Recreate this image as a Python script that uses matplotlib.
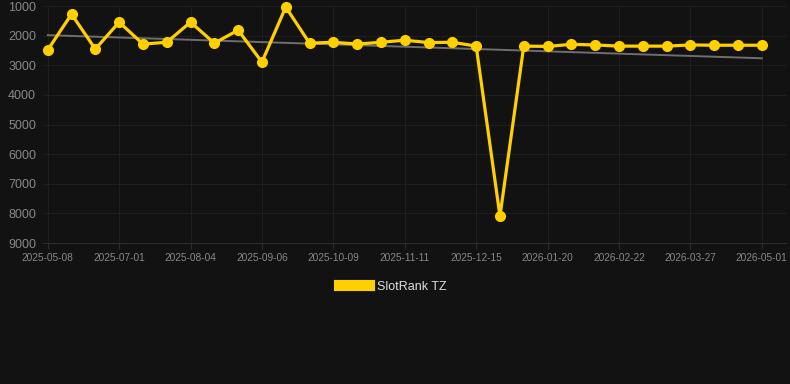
import numpy as np
import matplotlib.pyplot as plt

plt.rcParams["font.family"] = ["Liberation Sans", "DejaVu Sans"]

dates = ["2025-05-08", "", "", "2025-07-01", "", "", "2025-08-04", "", "",
         "2025-09-06", "", "", "2025-10-09", "", "", "2025-11-11", "", "",
         "2025-12-15", "", "", "2026-01-20", "", "", "2026-02-22", "", "",
         "2026-03-27", "", "", "2026-05-01"]
ranks = [2480, 1270, 2450, 1540, 2280, 2220, 1540, 2250, 1810, 2890, 1030,
         2250, 2220, 2280, 2220, 2150, 2230, 2220, 2350, 8090, 2350, 2360,
         2290, 2310, 2350, 2350, 2350, 2310, 2320, 2320, 2320]
trend_ends = [1980, 2760]

bg = "#121212"
fig = plt.figure(figsize=(7.9, 3.84), dpi=100, facecolor=bg)
ax = fig.add_axes([0.0544, 0.367, 0.94, 0.617], facecolor=bg)

x = np.arange(len(ranks))
ax.plot([x[0], x[-1]], trend_ends, color="#6e6e6e", lw=1.4, zorder=2)
ax.plot(x, ranks, color="#FFD000", lw=2.3, marker="o", markersize=7,
        label="SlotRank TZ", zorder=3, clip_on=False)

ax.set_ylim(9000, 1000)
ax.set_xlim(-0.2, 31.0)
ax.set_yticks(range(1000, 10000, 1000))
ax.set_xticks(x[::3])
ax.set_xticklabels([d for d in dates if d])

ax.grid(True, color="#1e1e1e", lw=0.8)
for s in ["top", "right", "left"]:
    ax.spines[s].set_visible(False)
ax.spines["bottom"].set_color("#2c2c2c")
ax.tick_params(axis="y", length=0, labelsize=9, colors="#888888", pad=5)
ax.tick_params(axis="x", length=4, labelsize=7.3, colors="#888888", pad=3,
               color="#2c2c2c")

leg = fig.legend(loc="center", bbox_to_anchor=(0.497, 0.254), frameon=False,
                 handlelength=2.45, handleheight=0.9, handletextpad=0.6,
                 fontsize=9)
leg.legend_handles[0].set_marker("")
leg.legend_handles[0].set_linewidth(8)
for t in leg.get_texts():
    t.set_color("#dddddd")

plt.savefig("out.png", dpi=100, facecolor=bg)
